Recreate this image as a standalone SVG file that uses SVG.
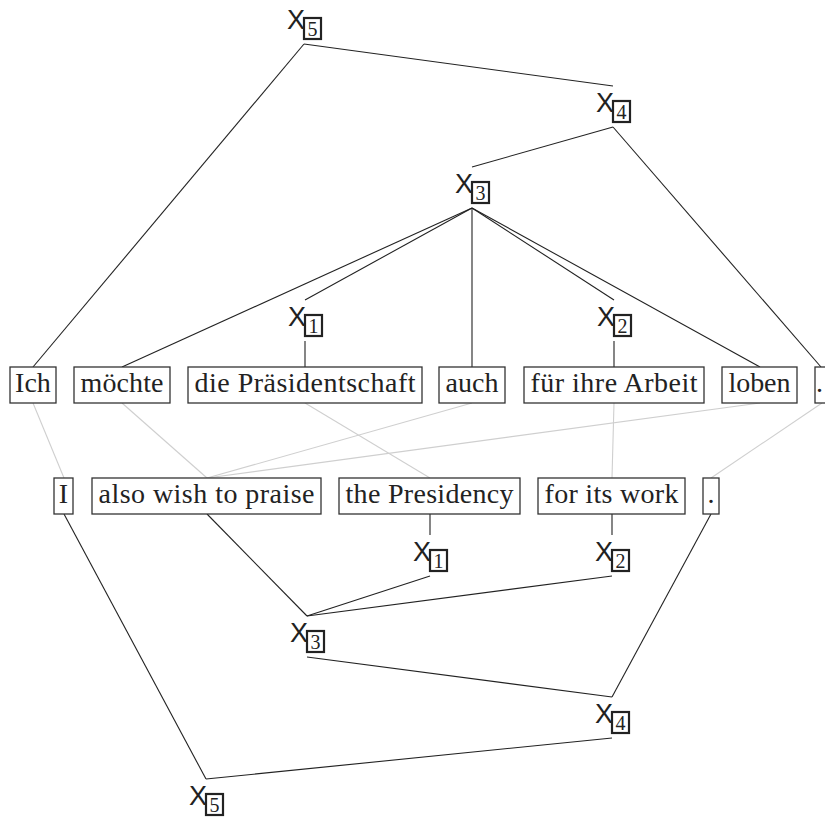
<svg xmlns="http://www.w3.org/2000/svg" width="825" height="819" viewBox="0 0 825 819">
  <defs>
    <style>
      .word rect { fill: #fff; stroke: #333; stroke-width: 1.3; }
      .word text { font-family: "Liberation Serif", serif; font-size: 28px; fill: #222; text-anchor: middle; }
      .sym { font-family: "Liberation Sans", sans-serif; font-size: 27px; fill: #222; text-anchor: end; }
      .ibox { fill: #fff; stroke: #222; stroke-width: 2.2; }
      .idx { font-family: "Liberation Serif", serif; font-size: 20px; fill: #222; text-anchor: middle; }
      .tree line { stroke: #222; stroke-width: 1.1; }
      .align line { stroke: #cfcfcf; stroke-width: 1.1; }
    </style>
  </defs>

  <rect width="825" height="819" fill="#fff"/>

  <!-- word alignment links -->
  <g id="alignment" class="align">
    <line x1="33" y1="403" x2="64" y2="478"/>
    <line x1="122" y1="403" x2="207" y2="478"/>
    <line x1="305" y1="403" x2="430" y2="478"/>
    <line x1="472" y1="403" x2="207" y2="478"/>
    <line x1="760" y1="403" x2="207" y2="478"/>
    <line x1="614" y1="403" x2="612" y2="478"/>
    <line x1="822" y1="403" x2="711" y2="478"/>
  </g>

  <!-- tree edges -->
  <g id="connectors" class="tree">
    <!-- source side -->
    <line x1="304" y1="44" x2="33" y2="367"/>
    <line x1="304" y1="44" x2="613" y2="86"/>
    <line x1="613" y1="127" x2="472" y2="167"/>
    <line x1="613" y1="127" x2="821" y2="367"/>
    <line x1="472" y1="208" x2="122" y2="367"/>
    <line x1="472" y1="208" x2="305" y2="300"/>
    <line x1="472" y1="208" x2="472" y2="367"/>
    <line x1="472" y1="208" x2="614" y2="300"/>
    <line x1="472" y1="208" x2="760" y2="367"/>
    <line x1="305" y1="341" x2="305" y2="367"/>
    <line x1="614" y1="341" x2="614" y2="367"/>
    <!-- target side -->
    <line x1="430" y1="514" x2="430" y2="535"/>
    <line x1="612" y1="514" x2="612" y2="535"/>
    <line x1="207" y1="514" x2="307" y2="616"/>
    <line x1="430" y1="576" x2="307" y2="616"/>
    <line x1="612" y1="576" x2="307" y2="616"/>
    <line x1="307" y1="657" x2="612" y2="697"/>
    <line x1="711" y1="514" x2="612" y2="697"/>
    <line x1="64" y1="514" x2="206" y2="779"/>
    <line x1="612" y1="738" x2="206" y2="779"/>
  </g>

  <!-- source words -->
  <g id="src-Ich" class="word"><rect x="10" y="367" width="46" height="36"/><text x="33" y="392">Ich</text></g>
  <g id="src-moechte" class="word"><rect x="74" y="367" width="96" height="36"/><text x="122" y="392" textLength="83">möchte</text></g>
  <g id="src-praes" class="word"><rect x="188" y="367" width="234" height="36"/><text x="305" y="392" textLength="221">die Präsidentschaft</text></g>
  <g id="src-auch" class="word"><rect x="439" y="367" width="66" height="36"/><text x="472" y="392" textLength="53">auch</text></g>
  <g id="src-arbeit" class="word"><rect x="524" y="367" width="180" height="36"/><text x="614" y="392" textLength="167">für ihre Arbeit</text></g>
  <g id="src-loben" class="word"><rect x="722" y="367" width="75" height="36"/><text x="759.5" y="392" textLength="62">loben</text></g>
  <g id="src-period" class="word"><rect x="815" y="367" width="16" height="36"/><text x="819.5" y="392">.</text></g>

  <!-- target words -->
  <g id="tgt-I" class="word"><rect x="54" y="478" width="19" height="36"/><text x="63.5" y="503">I</text></g>
  <g id="tgt-praise" class="word"><rect x="92" y="478" width="229" height="36"/><text x="206.5" y="503" textLength="216">also wish to praise</text></g>
  <g id="tgt-presidency" class="word"><rect x="339" y="478" width="181" height="36"/><text x="429.5" y="503" textLength="168">the Presidency</text></g>
  <g id="tgt-work" class="word"><rect x="538" y="478" width="147" height="36"/><text x="611.5" y="503" textLength="134">for its work</text></g>
  <g id="tgt-period" class="word"><rect x="703" y="478" width="16" height="36"/><text x="711" y="503">.</text></g>

  <!-- source nonterminals (origin = upper attach point) -->
  <g id="src-X5" transform="translate(304,3)"><text class="sym" x="1" y="25.5">X</text><rect class="ibox" x="0" y="15" width="17" height="21"/><text class="idx" x="8.5" y="32.5">5</text></g>
  <g id="src-X4" transform="translate(613,86)"><text class="sym" x="1" y="25.5">X</text><rect class="ibox" x="0" y="15" width="17" height="21"/><text class="idx" x="8.5" y="32.5">4</text></g>
  <g id="src-X3" transform="translate(472,167)"><text class="sym" x="1" y="25.5">X</text><rect class="ibox" x="0" y="15" width="17" height="21"/><text class="idx" x="8.5" y="32.5">3</text></g>
  <g id="src-X1" transform="translate(305,300)"><text class="sym" x="1" y="25.5">X</text><rect class="ibox" x="0" y="15" width="17" height="21"/><text class="idx" x="8.5" y="32.5">1</text></g>
  <g id="src-X2" transform="translate(614,300)"><text class="sym" x="1" y="25.5">X</text><rect class="ibox" x="0" y="15" width="17" height="21"/><text class="idx" x="8.5" y="32.5">2</text></g>

  <!-- target nonterminals -->
  <g id="tgt-X1" transform="translate(430,535)"><text class="sym" x="1" y="25.5">X</text><rect class="ibox" x="0" y="15" width="17" height="21"/><text class="idx" x="8.5" y="32.5">1</text></g>
  <g id="tgt-X2" transform="translate(612,535)"><text class="sym" x="1" y="25.5">X</text><rect class="ibox" x="0" y="15" width="17" height="21"/><text class="idx" x="8.5" y="32.5">2</text></g>
  <g id="tgt-X3" transform="translate(307,616)"><text class="sym" x="1" y="25.5">X</text><rect class="ibox" x="0" y="15" width="17" height="21"/><text class="idx" x="8.5" y="32.5">3</text></g>
  <g id="tgt-X4" transform="translate(612,697)"><text class="sym" x="1" y="25.5">X</text><rect class="ibox" x="0" y="15" width="17" height="21"/><text class="idx" x="8.5" y="32.5">4</text></g>
  <g id="tgt-X5" transform="translate(206,779)"><text class="sym" x="1" y="25.5">X</text><rect class="ibox" x="0" y="15" width="17" height="21"/><text class="idx" x="8.5" y="32.5">5</text></g>
</svg>
